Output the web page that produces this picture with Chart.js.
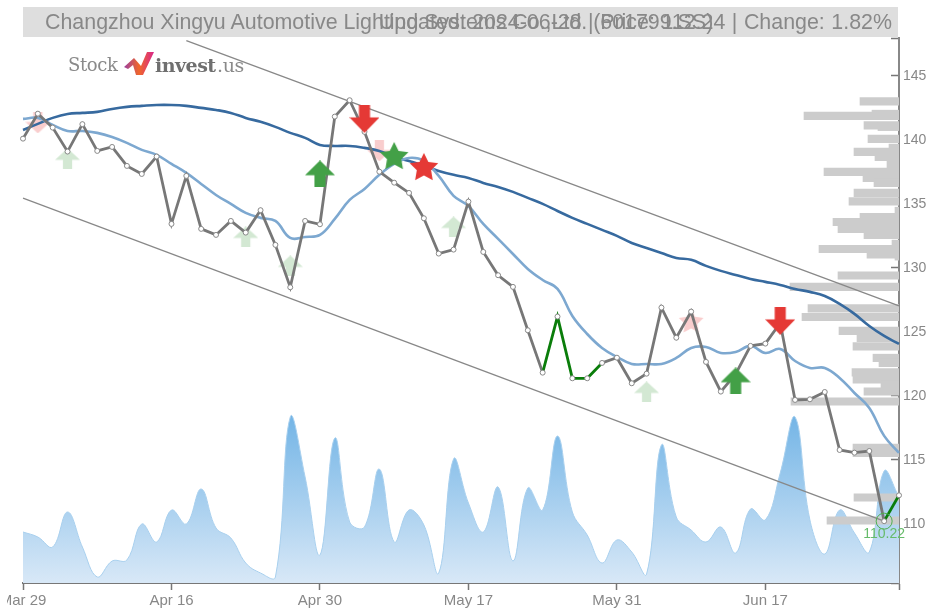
<!DOCTYPE html>
<html>
<head>
<meta charset="utf-8">
<title>Changzhou Xingyu Automotive Lighting Systems Co.,Ltd. (601799.SS)</title>
<script src="https://cdn.jsdelivr.net/npm/chart.js@4"></script>
<style>
body { margin: 0; background: #fff; overflow: hidden; font-family: "Liberation Sans", Arial, sans-serif; }
#wrap { position: absolute; left: 7px; top: 0; width: 919px; height: 610px; }
#titlebar { position: absolute; left: 23px; top: 7px; width: 875px; height: 30px; background: #dedede; color: #888; font-size: 21.4px; line-height: 31px; white-space: nowrap; }
#titlebar .left { position: absolute; left: 22px; }
#titlebar .right { position: absolute; right: 6px; word-spacing: 0.6px; }
#logo { position: absolute; left: 68px; top: 52px; height: 26px; white-space: nowrap; font-family: "DejaVu Serif", serif; font-size: 18px; line-height: 26px; color: #8a8a8a; }
#logo svg { position: absolute; left: 55px; top: -2px; }
#logo .stock { position: absolute; left: 0; font-weight: normal; font-size: 18px; letter-spacing: -0.4px; }
#logo .invest { position: absolute; left: 87px; font-weight: bold; color: #6f6f6f; font-size: 19px; letter-spacing: -0.5px; }
#logo .us { position: absolute; left: 149px; font-size: 19px; letter-spacing: -0.4px; }
</style>
</head>
<body>
<div id="wrap"><canvas id="grafico" width="919" height="610"></canvas></div>
<div id="titlebar">
  <span class="left">Changzhou Xingyu Automotive Lighting Systems Co.,Ltd. (601799.SS)</span>
  <span class="right">Updated: 2024-06-28 | Price: 112.24 | Change: 1.82%</span>
</div>
<div id="logo">
  <span class="stock">Stock</span>
  <svg width="32" height="28" viewBox="0 0 32 28">
    <defs><linearGradient id="lg" x1="0" y1="0" x2="1" y2="0"><stop offset="0" stop-color="#9c3fa0"/><stop offset="0.5" stop-color="#f0672a"/><stop offset="1" stop-color="#d8268c"/></linearGradient></defs>
    <polygon fill="url(#lg)" points="1,17 11,8 18,16 24,2 31,2 20,25 13,25 10,15 5,19"/>
  </svg>
  <span class="invest">invest</span><span class="us">.us</span>
</div>
<script>
const dates = ['Mar 29','Apr 1','Apr 2','Apr 3','Apr 8','Apr 9','Apr 10','Apr 11','Apr 12','Apr 15',
  'Apr 16','Apr 17','Apr 18','Apr 19','Apr 22','Apr 23','Apr 24','Apr 25','Apr 26','Apr 29',
  'Apr 30','May 6','May 7','May 8','May 9','May 10','May 13','May 14','May 15','May 16',
  'May 17','May 20','May 21','May 22','May 23','May 24','May 27','May 28','May 29','May 30',
  'May 31','Jun 3','Jun 4','Jun 5','Jun 6','Jun 7','Jun 11','Jun 12','Jun 13','Jun 14',
  'Jun 17','Jun 18','Jun 19','Jun 20','Jun 21','Jun 24','Jun 25','Jun 26','Jun 27','Jun 28'];
const tickIdx = [0, 10, 20, 30, 40, 50, 59];

const precios = [140.10,142.05,140.96,139.09,141.23,139.14,139.45,137.97,137.34,138.70,
  133.44,137.19,133.05,132.58,133.67,132.76,134.51,131.80,128.49,133.67,
  133.41,141.82,143.10,140.63,137.52,136.66,135.86,133.88,131.12,131.43,
  135.18,131.25,129.43,128.52,125.13,121.82,126.20,121.38,121.38,122.58,
  122.99,120.99,121.74,126.90,124.55,126.59,122.66,120.34,121.72,123.91,
  124.09,125.70,119.69,119.74,120.31,115.78,115.57,115.70,110.22,112.24];
// tramos del precio en verde (indice de inicio)
const tramosVerdes = [35, 36, 37, 38, 58];

const mediaCorta = [141.64,141.72,141.17,140.70,140.70,140.55,140.23,139.77,139.22,138.83,
  138.13,137.42,136.56,135.70,135.00,134.30,133.91,133.67,132.34,132.42,
  132.58,133.83,135.31,136.17,137.27,138.13,138.59,138.36,137.19,135.63,
  134.84,133.44,132.27,131.09,129.92,129.06,128.36,126.25,124.84,123.75,
  123.05,122.50,122.50,122.50,122.97,123.75,123.83,123.36,123.44,123.91,
  123.36,123.67,122.73,122.19,122.19,121.41,120.23,119.06,116.88,115.55];

const mediaLarga = [140.78,141.25,141.72,142.03,142.11,142.19,142.42,142.58,142.66,142.73,
  142.73,142.66,142.50,142.34,142.11,141.72,141.41,141.02,140.55,140.16,
  139.61,139.53,139.53,139.38,139.14,138.67,138.36,137.97,137.58,137.27,
  137.03,136.64,136.33,135.94,135.47,135.00,134.45,133.91,133.44,132.97,
  132.50,131.95,131.56,131.17,130.78,130.63,130.16,129.77,129.45,129.14,
  128.91,128.67,128.36,128.13,127.81,127.19,126.41,125.47,124.69,124.06];

const volumen = [51,46,36,71,36,6,22,23,59,41,
  73,59,94,55,45,20,10,6,166,106,
  28,145,61,56,114,41,73,58,10,124,
  80,51,96,22,95,73,147,71,48,20,
  43,31,9,138,66,53,41,56,30,74,
  63,110,166,63,29,73,50,31,112,86];

// perfil de volumen a la derecha
const perfilPrecios = [143.01,141.88,142.03,141.13,141.02,140.08,139.38,139.06,138.67,138.05,
  137.50,137.03,136.64,135.86,135.20,134.45,133.98,133.59,133.05,132.58,
  131.88,131.48,131.05,130.90,129.41,128.52,126.84,126.17,125.08,124.53,
  123.87,122.97,122.58,121.84,121.29,120.86,120.35,119.57,115.94,115.55,
  112.07,110.27];
const perfilVolumen = [39,95,27,35,21,31,10,45,24,12,
  75,36,25,45,50,4,39,66,61,35,
  7,80,32,4,61,109,91,97,60,42,
  46,26,20,47,46,18,35,108,46,46,
  45,72];

// canal de tendencia
const canalSuperior = [{ x: 'Apr 17', y: 147.75 }, { x: 'Jun 28', y: 127.03 }];
const canalInferior = [{ x: 'Mar 29', y: 135.45 }, { x: 'Jun 27', y: 110.22 }];

// señales
const subePalidoIdx = [3, 15, 18, 29, 42];
const subePalidoVal = [138.52, 132.42, 130.16, 133.20, 120.31];
const subeIdx = [20, 48];
const subeVal = [137.34, 121.17];
const bajaIdx = [23, 51];
const bajaVal = [141.64, 125.86];
const bajaPalidoIdx = [1, 24];
const bajaPalidoVal = [141.33, 139.14];
const estrellaVerdeIdx = [25];
const estrellaVerdeVal = [138.75];
const estrellaRojaIdx = [27];
const estrellaRojaVal = [137.89];
const estrellaPalidaIdx = [45];
const estrellaPalidaVal = [125.86];

const ultimoIdx = 58;
const ultimoVal = 110.22;

function puntos(idx, val) {
    return idx.map((i, n) => ({ x: dates[i], y: val[n] }));
}

// dibuja flechas y estrellas en un canvas para usarlas como pointStyle
function flecha(ancho, alto, color, abajo) {
    let c = document.createElement('canvas');
    c.width = ancho; c.height = alto;
    let g = c.getContext('2d');
    if (abajo) { g.translate(0, alto); g.scale(1, -1); }
    let cuerpo = ancho * 0.37, cabeza = alto * 0.55;
    g.fillStyle = color;
    g.beginPath();
    g.moveTo(ancho / 2, 0);
    g.lineTo(ancho, cabeza);
    g.lineTo((ancho + cuerpo) / 2, cabeza);
    g.lineTo((ancho + cuerpo) / 2, alto);
    g.lineTo((ancho - cuerpo) / 2, alto);
    g.lineTo((ancho - cuerpo) / 2, cabeza);
    g.lineTo(0, cabeza);
    g.closePath();
    g.fill();
    return c;
}

function estrella(tam, color) {
    let c = document.createElement('canvas');
    c.width = tam; c.height = tam;
    let g = c.getContext('2d');
    let r = tam / 2;
    g.fillStyle = color;
    g.beginPath();
    for (let i = 0; i < 10; i++) {
        let rad = i % 2 ? r * 0.5 : r;
        let a = -Math.PI / 2 + i * Math.PI / 5;
        g.lineTo(r + rad * Math.cos(a), r + 1 + rad * Math.sin(a));
    }
    g.closePath();
    g.fill();
    return c;
}

function marcas(idx, val, estilo, order) {
    return {
        type: 'line', data: puntos(idx, val), showLine: false, yAxisID: 'y',
        pointStyle: estilo, pointRadius: 10, order: order
    };
}

// rotulo del ultimo precio
const rotuloUltimo = {
    id: 'rotuloUltimo',
    afterDatasetsDraw(chart) {
        let g = chart.ctx;
        g.save();
        g.font = '14px "Liberation Sans"';
        g.fillStyle = '#66bb6a';
        g.textAlign = 'center';
        g.textBaseline = 'middle';
        g.fillText(ultimoVal.toFixed(2), chart.scales.x.getPixelForValue(ultimoIdx), chart.scales.y.getPixelForValue(ultimoVal) + 13);
        g.restore();
    }
};

let canvas = document.getElementById('grafico');

new Chart(canvas, {
    type: 'line',
    data: {
        labels: dates,
        datasets: [
            {
                type: 'line', data: volumen, yAxisID: 'yv', order: 10,
                tension: 0.4, pointRadius: 0, borderWidth: 1, borderColor: '#a9d0ee', fill: 'origin',
                backgroundColor: function (ctx) {
                    let chart = ctx.chart;
                    if (!chart.chartArea) return '#a9d0ee';
                    let esc = chart.scales.yv;
                    let grad = chart.ctx.createLinearGradient(0, esc.getPixelForValue(Math.max(...volumen)), 0, esc.getPixelForValue(0));
                    grad.addColorStop(0, '#74b5e6');
                    grad.addColorStop(1, '#d8e8f7');
                    return grad;
                }
            },
            {
                type: 'bar', indexAxis: 'y', xAxisID: 'xp', yAxisID: 'y', order: 9,
                data: perfilPrecios.map((p, i) => ({ x: perfilVolumen[i], y: p })),
                backgroundColor: '#cccccc', barThickness: 7.5, grouped: false
            },
            marcas(subePalidoIdx, subePalidoVal, flecha(25, 21, '#d3e8d3'), 8),
            marcas(bajaPalidoIdx, bajaPalidoVal, flecha(25, 21, '#f9cdcd', true), 8),
            marcas(estrellaPalidaIdx, estrellaPalidaVal, estrella(26, '#f9cdcd'), 8),
            { type: 'line', data: canalSuperior, yAxisID: 'y', order: 7, pointRadius: 0, borderWidth: 1.3, borderColor: '#888888', tension: 0 },
            { type: 'line', data: canalInferior, yAxisID: 'y', order: 7, pointRadius: 0, borderWidth: 1.3, borderColor: '#888888', tension: 0 },
            { type: 'line', data: mediaLarga, yAxisID: 'y', order: 6, pointRadius: 0, borderWidth: 2.6, borderColor: '#376a9f', tension: 0.4 },
            { type: 'line', data: mediaCorta, yAxisID: 'y', order: 5, pointRadius: 0, borderWidth: 2.6, borderColor: '#7da8d0', tension: 0.4 },
            {
                type: 'line', data: precios, yAxisID: 'y', order: 4, tension: 0,
                borderWidth: 2.8, borderColor: '#777777',
                pointRadius: 2.5, pointBorderWidth: 1, pointBackgroundColor: '#ffffff', pointBorderColor: '#888888',
                segment: {
                    borderColor: ctx => tramosVerdes.includes(ctx.p0DataIndex) ? '#0a7d0a' : '#777777'
                }
            },
            {
                type: 'line', data: puntos([ultimoIdx], [ultimoVal]), yAxisID: 'y', order: 3, showLine: false,
                pointRadius: 8, pointBorderWidth: 1, pointBackgroundColor: 'rgba(0,0,0,0)', pointBorderColor: '#4caf50'
            },
            marcas(subeIdx, subeVal, flecha(30, 27, '#43a047'), 2),
            marcas(bajaIdx, bajaVal, flecha(30, 28, '#e53935', true), 2),
            marcas(estrellaVerdeIdx, estrellaVerdeVal, estrella(30, '#43a047'), 2),
            marcas(estrellaRojaIdx, estrellaRojaVal, estrella(30, '#e53935'), 2)
        ]
    },
    options: {
        responsive: false,
        animation: false,
        layout: { padding: { left: 16, top: 38, right: 0, bottom: 0 } },
        plugins: { legend: { display: false }, title: { display: false }, tooltip: { enabled: false } },
        scales: {
            x: {
                offset: false,
                border: { color: '#777777', width: 2 },
                grid: { offset: false, drawOnChartArea: false, drawTicks: true, tickLength: 7, color: '#777777', tickWidth: 1.5 },
                afterBuildTicks(scale) { scale.ticks = scale.ticks.filter(t => tickIdx.includes(t.value)); },
                afterFit(scale) { scale.paddingLeft = 0; scale.paddingRight = 0; scale.height = 27; },
                ticks: {
                    autoSkip: false, maxRotation: 0, color: '#888888', padding: 2,
                    font: { family: '"Liberation Sans"', size: 15 },
                    callback(value) { return value === 59 ? '' : dates[value]; }
                }
            },
            y: {
                position: 'right',
                offset: false,
                min: 105.39,
                max: 147.96,
                border: { color: '#888888', width: 2 },
                grid: { offset: false, drawOnChartArea: false, drawTicks: true, tickLength: -8, color: '#777777', tickWidth: 1.5 },
                afterFit(scale) { scale.width = 27; scale.paddingTop = 0; scale.paddingBottom = 0; },
                ticks: {
                    stepSize: 5, color: '#888888', padding: 12,
                    font: { family: '"Liberation Sans"', size: 14 },
                    callback(value) { return value % 5 === 0 ? value : ''; }
                }
            },
            yv: { display: false, min: 0, max: 545 },
            xp: { display: false, axis: 'x', type: 'linear', reverse: true, min: 0, max: 876 }
        }
    },
    plugins: [rotuloUltimo]
});
</script>
</body>
</html>
